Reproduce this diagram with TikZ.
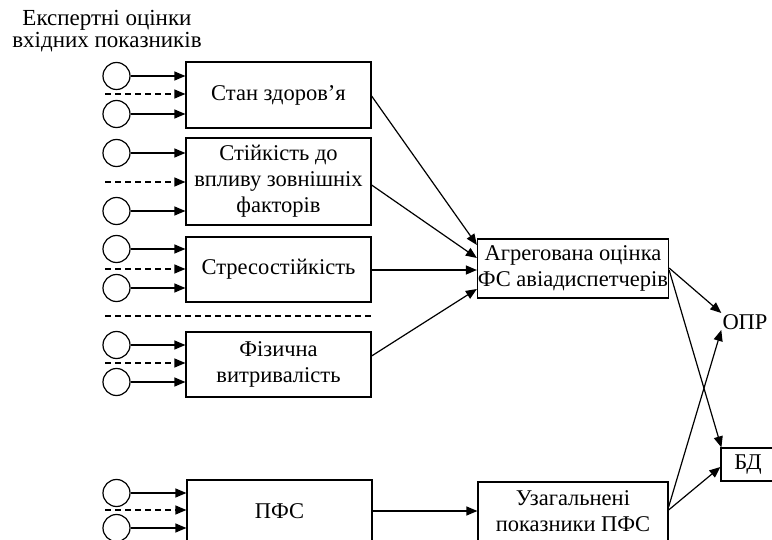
\documentclass[tikz,border=0pt]{standalone}
\usepackage{fontspec}
\setmainfont{Liberation Serif}
\usetikzlibrary{arrows.meta}
\begin{document}
\begin{tikzpicture}[x=1pt,y=-1pt,
  every node/.style={font=\fontsize{22.5}{26}\selectfont},
  boxn/.style={draw,line width=1.2pt,minimum width=185pt,inner sep=0.5pt,align=center},
  inc/.style={draw,circle,line width=1.2pt,minimum size=27pt,inner sep=0pt},
  arr/.style={line width=1.2pt,-{Triangle[length=11pt,width=9pt]}},
  darr/.style={line width=1.2pt,dash pattern=on 6pt off 4pt,-{Triangle[length=11pt,width=9pt]}},
  sep/.style={line width=1.2pt,dash pattern=on 6pt off 4pt}]
\useasboundingbox (0,0) rectangle (772,540);
\clip (0,0) rectangle (772,540);
% title
\node[align=center,font=\fontsize{23}{22.5}\selectfont] (title) at (107,31) {Експертні оцінки\\вхідних показників};
% boxes
\node[boxn,minimum height=66pt] (b1) at (278.5,95) {Стан здоров’я};
\node[boxn,minimum height=87pt] (b2) at (278.5,181.5) {Стійкість до\\впливу зовнішніх\\факторів};
\node[boxn,minimum height=65pt] (b3) at (278.5,269.5) {Стресостійкість};
\node[boxn,minimum height=65pt] (b4) at (278.5,364.5) {Фізична\\витривалість};
\node[boxn,minimum height=62pt] (b5) at (279.5,511) {ПФС};
\node[boxn,minimum width=190pt,minimum height=59pt] (agg) at (573,268.5) {Агрегована оцінка\\ФС авіадиспетчерів};
\node[boxn,minimum width=190pt,minimum height=59pt] (uz) at (573,511.5) {Узагальнені\\показники ПФС};
\node[inner sep=1pt] (opr) at (745,322) {ОПР};
\node[draw,line width=1.2pt,minimum width=54pt,minimum height=33pt,inner sep=1pt] (bd) at (748,464.5) {БД};
% input circles
\foreach \n/\y in {c1a/76,c1b/114,c2a/153,c2b/211,c3a/249,c3b/288,c4a/345,c4b/382,c5a/493,c5b/528}{
  \node[inc] (\n) at (116.5,\y) {};
}
\foreach \n/\b in {c1a/b1,c1b/b1,c2a/b2,c2b/b2,c3a/b3,c3b/b3,c4a/b4,c4b/b4,c5a/b5,c5b/b5}{
  \draw[arr] (\n.east) -- (\n.east -| \b.west);
}
% dashed inputs
\foreach \n/\y/\b in {d1/94/b1,d2/182/b2,d3/269/b3,d4/363/b4,d5/510/b5}{
  \coordinate (\n) at (105,\y);
  \draw[darr] (\n) -- (\n -| \b.west);
}
% separator
\coordinate (s1) at (105,316);
\coordinate (s2) at (371,316);
\draw[sep] (s1) -- (s2);
% connectors
\draw[arr] ([yshift=-1pt]b1.east) -- ([yshift=23.5pt]agg.west);
\draw[arr] ([yshift=-3.5pt]b2.east) -- ([yshift=10.5pt]agg.west);
\draw[arr] ([yshift=-0.5pt]b3.east) -- ([yshift=-1.5pt]agg.west);
\draw[arr] ([yshift=8.5pt]b4.east) -- ([yshift=-20.5pt]agg.west);
\draw[arr] ([yshift=0.5pt]agg.east) -- ([yshift=9pt]opr.west);
\draw[arr] ([yshift=-1.5pt]agg.east) -- ([xshift=1pt]bd.north west);
\draw[arr] ([yshift=4.5pt]uz.east) -- ([yshift=-8pt]opr.west);
\draw[arr] ([yshift=1.5pt]uz.east) -- ([yshift=-2.5pt]bd.west);
\draw[arr] (b5.east) -- (b5.east -| uz.west);
\end{tikzpicture}
\end{document}
